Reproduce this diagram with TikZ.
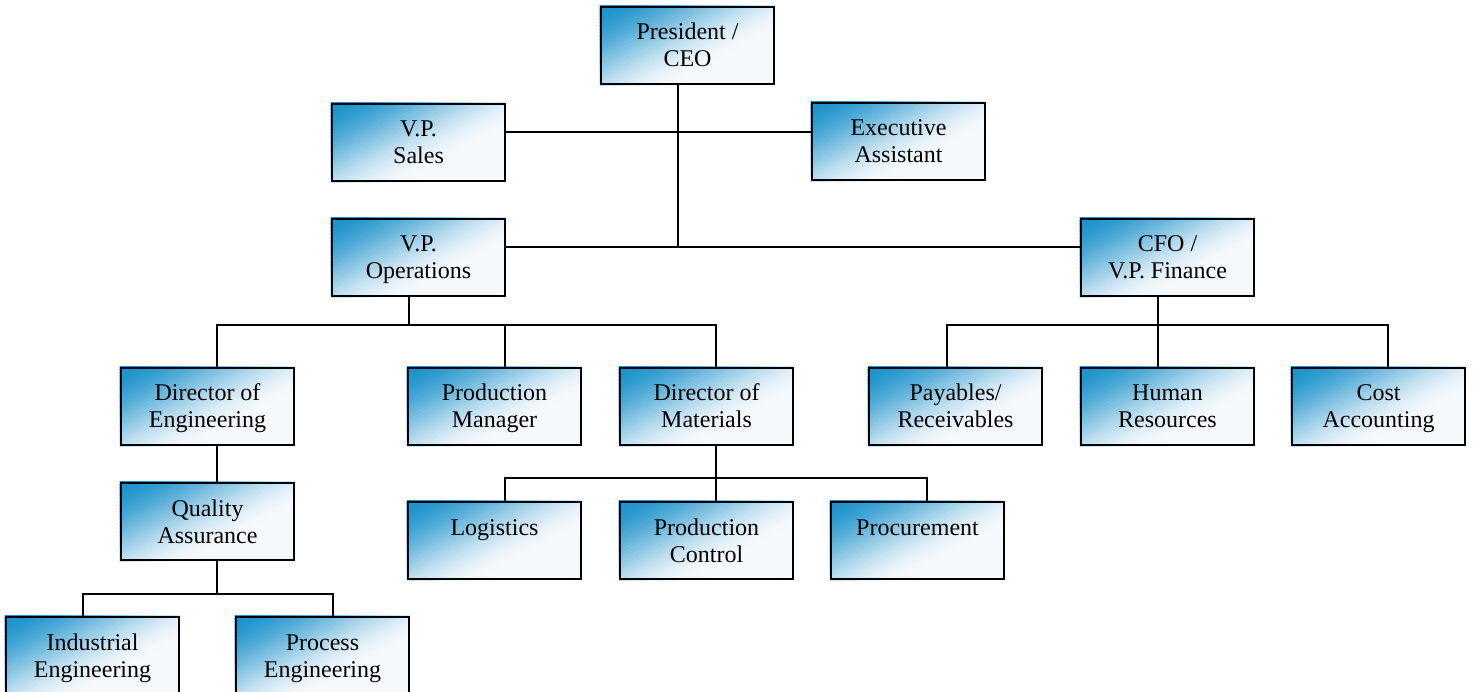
\documentclass[tikz,border=0pt]{standalone}
\usepackage{fontspec}
\setmainfont{Liberation Serif}
\definecolor{cblue}{RGB}{28,146,204}
\definecolor{cwhite}{RGB}{246,249,252}
\pgfdeclarelayer{bg}
\pgfsetlayers{bg,main}
\newcommand\twol[2]{\rule{0pt}{22pt}#1\\#2\rule[-6pt]{0pt}{6pt}}
\tikzset{
  orgbox/.style={draw=black, line width=2.6pt,
    minimum width=173pt, minimum height=77pt, inner sep=0pt, align=center,
    font=\fontsize{24}{27}\selectfont},
  conn/.style={draw=black, line width=2pt, line join=miter}
}
\begin{document}
\begin{tikzpicture}[x=1pt, y=-1pt]
\useasboundingbox (0,0) rectangle (1475,692);
% boxes (centre = left+86.5, top+38.5)
\node[orgbox] (ceo)   at (687.5,45.5)   {\twol{President /}{CEO}};
\node[orgbox] (sales) at (418.5,142.5)  {\twol{V.P.}{Sales}};
\node[orgbox] (ea)    at (898.5,141.5)  {\twol{Executive}{Assistant}};
\node[orgbox] (ops)   at (418.5,257.5)  {\twol{V.P.}{Operations}};
\node[orgbox] (cfo)   at (1167.5,257.5) {\twol{CFO /}{V.P. Finance}};
\node[orgbox] (deng)  at (207.5,406.5)  {\twol{Director of}{Engineering}};
\node[orgbox] (pm)    at (494.5,406.5)  {\twol{Production}{Manager}};
\node[orgbox] (dmat)  at (706.5,406.5)  {\twol{Director of}{Materials}};
\node[orgbox] (pay)   at (955.5,406.5)  {\twol{Payables/}{Receivables}};
\node[orgbox] (hr)    at (1167.5,406.5) {\twol{Human}{Resources}};
\node[orgbox] (cost)  at (1378.5,406.5) {\twol{Cost}{Accounting}};
\node[orgbox] (qa)    at (207.5,521.5)  {\twol{Quality}{Assurance}};
\node[orgbox] (log)   at (494.5,540.5)  {\twol{Logistics}{\mbox{}}};
\node[orgbox] (pc)    at (706.5,540.5)  {\twol{Production}{Control}};
\node[orgbox] (proc)  at (917.5,540.5)  {\twol{Procurement}{\mbox{}}};
\node[orgbox] (ie)    at (92.5,655.5)   {\twol{Industrial}{Engineering}};
\node[orgbox] (pe)    at (322.5,655.5)  {\twol{Process}{Engineering}};
% gradient fills behind the boxes
\begin{pgfonlayer}{bg}
\foreach \n in {ceo,sales,ea,ops,cfo,deng,pm,dmat,pay,hr,cost,qa,log,pc,proc,ie,pe} {
  \begin{scope}
    \clip (\n.south west) rectangle (\n.north east);
    \fill[cwhite] (\n.south west) rectangle (\n.north east);
    \begin{scope}[shift={(\n.north west)}, rotate=-62]
      \foreach \dd in {0,3,...,108} {
        \pgfmathsetmacro\tv{min(1,\dd/105)}
        \pgfmathsetmacro\pct{100*(1-(3*\tv*\tv-2*\tv*\tv*\tv))}
        \fill[cblue!\pct!cwhite] (\dd-1,-300) rectangle (\dd+3.5,300);
      }
    \end{scope}
  \end{scope}
}
\end{pgfonlayer}
% junction coordinates
\coordinate (jsa)  at (678,132);
\coordinate (jceo) at (678,247);
\coordinate (aops) at (409,325);
\coordinate (a1) at (217,325);
\coordinate (a2) at (505,325);
\coordinate (a3) at (716,325);
\coordinate (acfo) at (1158,325);
\coordinate (b1) at (947,325);
\coordinate (b3) at (1388,325);
\coordinate (aqa) at (217,594);
\coordinate (c1) at (83,594);
\coordinate (c2) at (333,594);
\coordinate (amat) at (716,478);
\coordinate (d1) at (505,478);
\coordinate (d3) at (927,478);
% connectors
\draw[conn] (ceo.south -| jceo) -- (jceo);
\draw[conn] (sales.east |- jsa) -- (ea.west |- jsa);
\draw[conn] (ops.east |- jceo) -- (cfo.west |- jceo);
\draw[conn] (ops.south -| aops) -- (aops);
\draw[conn] (deng.north -| a1) -- (a1) -- (a3) -- (dmat.north -| a3);
\draw[conn] (a2) -- (pm.north -| a2);
\draw[conn] (cfo.south -| acfo) -- (hr.north -| acfo);
\draw[conn] (pay.north -| b1) -- (b1) -- (b3) -- (cost.north -| b3);
\draw[conn] (deng.south -| a1) -- (qa.north -| a1);
\draw[conn] (qa.south -| aqa) -- (aqa);
\draw[conn] (ie.north -| c1) -- (c1) -- (c2) -- (pe.north -| c2);
\draw[conn] (dmat.south -| amat) -- (pc.north -| amat);
\draw[conn] (log.north -| d1) -- (d1) -- (d3) -- (proc.north -| d3);
\end{tikzpicture}
\end{document}
